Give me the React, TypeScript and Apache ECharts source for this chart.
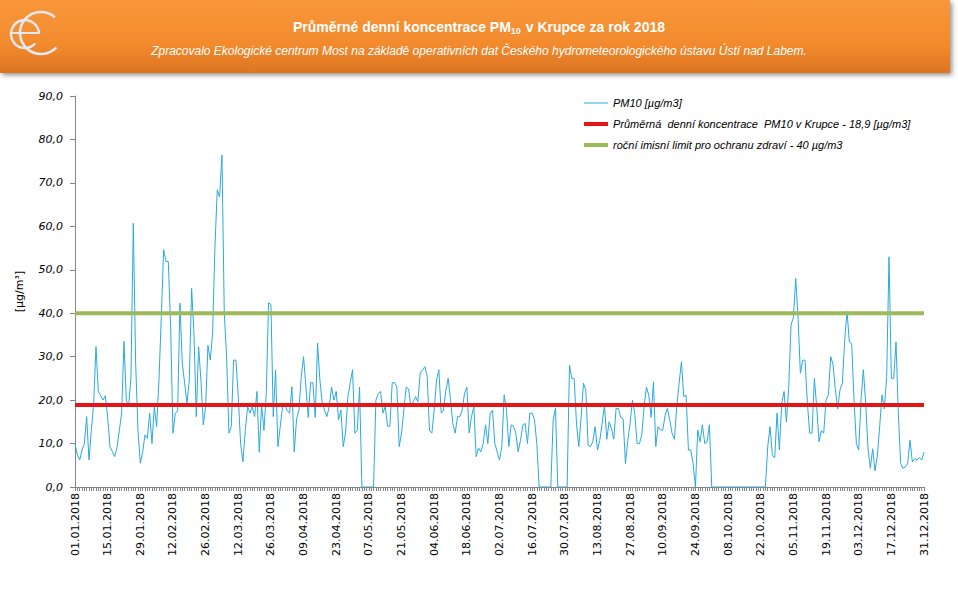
import React, { useEffect, useRef } from "react";
import * as echarts from "echarts";

// ---- data ----
const YEAR = 2018;
const DAY_COUNT = 365;
const MEAN_VALUE = 18.9;
const LIMIT_VALUE = 40;
const Y_TICKS = [0, 10, 20, 30, 40, 50, 60, 70, 80, 90];

const pm10JanFeb = [10, 7.4, 6.2, 8.5, 10, 16.2, 6.2, 13, 19.3, 32.3, 22, 21, 20, 21, 16, 9.3, 8.2, 7, 9, 13, 17, 33.5, 20, 18.5, 25.4, 60.7, 28.5, 13, 5.5, 8, 12, 11.2, 17, 10, 18.5, 13.9, 24.6, 39.2, 54.6, 51.9, 51.9, 36.9, 12.4, 17, 17.4, 42.3];
const pm10FebApr = [28.5, 23.9, 19.3, 24.6, 45.7, 35.4, 16.2, 32.3, 24.6, 14.3, 18.5, 32.6, 29.2, 35.4, 55.3, 68.4, 66.8, 76.4, 40, 30, 12.4, 13.9, 29.2, 29.2, 20.8, 10, 5.8, 13, 18.5, 17, 18.5, 16.2, 22, 8, 19, 13, 21.5, 42.4, 42, 16.2, 26.9, 9.3, 14, 18.5, 19, 17.5];
const pm10AprJul = [17, 23.1, 8.1, 15.7, 17.7, 25.4, 30, 23, 16, 24, 24, 16, 33.1, 24.6, 19.3, 17.7, 16.2, 18.5, 23, 20, 22, 15.5, 17.7, 9.3, 12.4, 20.8, 24, 27, 12.4, 13, 23, 0, 0, 0, 0, 0, 0, 20, 21.5, 22, 17, 18.5, 14, 14, 24, 24, 23, 9.3, 12.4, 17.7, 23, 22.6, 18.5, 19.6, 20.8, 19.6, 26.2, 27, 27.7, 25.4, 13, 12.4, 17.7, 24.6, 27, 17, 17.7, 22.3, 25, 20, 14.6, 12.4, 16.2, 16.2, 17.7, 21.5, 23, 12.4, 16.2, 18.5, 7, 9, 8.1, 10, 14.3, 10, 16.9, 17.7, 10, 8.1, 6.2, 9.3, 21.2, 17.7, 9.3, 14.3, 14, 12.4, 8.1, 10.7, 14.3, 14.6, 10, 17, 17, 15.5, 10];
const pm10July = [0, 0, 0, 0, 0, 0, 15.4, 18.1, 0, 0, 0, 0, 0];
const pm10JulSep = [28, 25, 25, 14.7, 9.3, 16, 23.9, 22.3, 9.6, 9.3, 10.4, 13.9, 8.5, 10.7, 14.7, 18.9, 11, 15, 13.5, 11, 18.1, 18.1, 16, 15.7, 5.4, 10.7, 14.7, 20, 16.9, 10, 10, 12, 18.5, 23, 21.1, 16, 24.2, 9.3, 13.9, 13.1, 13.1, 16.5, 18.1, 15.4, 12.3, 11, 18.5, 23.9, 28.8, 20.8, 21.1, 8.5, 8.5, 5.4, 0, 13.1, 10.4, 14.3, 10, 10.4, 14.3];
const pm10October = [0, 0, 0, 0, 0, 0, 0, 0, 0, 0, 0, 0, 0, 0, 0, 0, 0, 0, 0, 0, 0, 0, 0, 0];
const pm10OctDec = [9.3, 13.9, 7.2, 6.8, 17, 8.5, 19.3, 22, 15, 23, 37.3, 39, 48, 39, 26.2, 29.2, 29.2, 19.3, 12.4, 12.4, 25, 18.4, 10.4, 13, 12.4, 20, 21.2, 30, 28.2, 22.4, 18, 22.4, 23.9, 33.8, 40.4, 33.4, 33, 20, 10, 8.5, 20, 27, 19.3, 8.8, 4.3, 8.8, 3.7, 7.2, 13.9, 21.2, 18, 25.4, 53, 25, 25, 33.4, 17, 5.4, 4.3, 4.6, 5.4, 10.8, 5.8, 6.5, 6.2, 6.8, 6.2, 8];

const pm10 = [...pm10JanFeb, ...pm10FebApr, ...pm10AprJul, ...pm10July, ...pm10JulSep, ...pm10October, ...pm10OctDec];

const pad = (n: number) => (n < 10 ? "0" + n : "" + n);
const dates: string[] = [];
for (let i = 0; i < DAY_COUNT; i++) {
  const d = new Date(Date.UTC(YEAR, 0, 1) + i * 86400000);
  dates.push(`${pad(d.getUTCDate())}.${pad(d.getUTCMonth() + 1)}.${d.getUTCFullYear()}`);
}

const NAME_PM = "PM10 [µg/m3]";
const NAME_MEAN = "Průměrná  denní koncentrace  PM10 v Krupce - 18,9 [µg/m3]";
const NAME_LIMIT = "roční imisní limit pro ochranu zdraví - 40 µg/m3";

// legend icons: thin / thick horizontal bars inside a 24x12 box
const THIN_ICON = "path://M0,0 M0,5.5 L24,5.5 L24,6.5 L0,6.5 Z M24,12";
const THICK_ICON = "path://M0,0 M0,4 L24,4 L24,8 L0,8 Z M24,12";

export default function App() {
  const ref = useRef<HTMLDivElement>(null);
  useEffect(() => {
    document.body.style.margin = "0";
    const chart = echarts.init(ref.current!, null, { renderer: "svg" });
    const logoColor = "#E4E9F1";
    chart.setOption({
      animation: false,
      backgroundColor: "#ffffff",
      graphic: [
        {
          type: "rect",
          shape: { x: 0, y: 0, width: 950, height: 73 },
          style: {
            fill: new echarts.graphic.LinearGradient(0, 0, 0, 1, [
              { offset: 0, color: "#F8973A" },
              { offset: 0.6, color: "#F38B2E" },
              { offset: 1, color: "#DD7422" },
            ]),
            shadowBlur: 5,
            shadowOffsetX: 2,
            shadowOffsetY: 2,
            shadowColor: "rgba(0,0,0,0.45)",
          },
          z: 0,
        },
        {
          type: "arc",
          shape: { cx: 25, cy: 34, r: 14, startAngle: 0.75, endAngle: Math.PI * 2, clockwise: true },
          style: { stroke: logoColor, lineWidth: 2.4, fill: "none" },
          z: 2,
        },
        {
          type: "line",
          shape: { x1: 11, y1: 33, x2: 39, y2: 33 },
          style: { stroke: logoColor, lineWidth: 2 },
          z: 2,
        },
        {
          type: "arc",
          shape: { cx: 41, cy: 33, r: 21, startAngle: 0.75, endAngle: Math.PI * 2 - 0.85, clockwise: true },
          style: { stroke: logoColor, lineWidth: 2.6, fill: "none" },
          z: 2,
        },
        {
          type: "text",
          x: 479,
          y: 27,
          style: {
            text: "{a|Průměrné denní koncentrace PM}{s|10}{a| v Krupce za rok 2018}",
            align: "center",
            verticalAlign: "middle",
            fill: "#ffffff",
            rich: {
              a: { fontFamily: "Liberation Sans", fontWeight: "bold", fontSize: 14, lineHeight: 16, fill: "#ffffff" },
              s: { fontFamily: "Liberation Sans", fontWeight: "bold", fontSize: 9, lineHeight: 9, padding: [7, 1, 0, 0], fill: "#ffffff" },
            },
          },
          z: 3,
        },
        {
          type: "text",
          x: 479,
          y: 51,
          style: {
            text: "Zpracovalo Ekologické centrum Most na základě operativních dat Českého hydrometeorologického ústavu Ústí nad Labem.",
            align: "center",
            verticalAlign: "middle",
            fill: "#ffffff",
            fontFamily: "Liberation Sans",
            fontStyle: "italic",
            fontSize: 12,
          },
          z: 3,
        },
      ],
      legend: {
        orient: "vertical",
        left: 579,
        top: 92,
        itemWidth: 24,
        itemHeight: 12,
        itemGap: 9,
        textStyle: { fontFamily: "Liberation Sans", fontStyle: "italic", fontSize: 11, color: "#000" },
        data: [
          { name: NAME_PM, icon: THIN_ICON },
          { name: NAME_MEAN, icon: THICK_ICON },
          { name: NAME_LIMIT, icon: THICK_ICON },
        ],
      },
      grid: { left: 75, right: 34, top: 96, bottom: 104, containLabel: false },
      xAxis: {
        type: "category",
        data: dates,
        boundaryGap: false,
        axisLine: { lineStyle: { color: "#868686", width: 1 } },
        axisTick: { interval: 0, length: 4, lineStyle: { color: "#868686" } },
        axisLabel: {
          interval: 13,
          rotate: 90,
          margin: 6,
          fontFamily: "DejaVu Sans",
          fontSize: 11,
          color: "#000",
        },
        splitLine: { show: false },
      },
      yAxis: {
        type: "value",
        min: Y_TICKS[0],
        max: Y_TICKS[Y_TICKS.length - 1],
        interval: 10,
        name: "[µg/m³]",
        nameLocation: "middle",
        nameRotate: 90,
        nameGap: 50,
        nameTextStyle: { fontFamily: "DejaVu Sans", fontSize: 11, color: "#000" },
        axisLine: { show: true, lineStyle: { color: "#868686" } },
        axisTick: { show: true, length: 5, lineStyle: { color: "#868686" } },
        splitLine: { show: false },
        axisLabel: {
          margin: 12,
          fontFamily: "DejaVu Sans",
          fontStyle: "italic",
          fontSize: 11,
          color: "#000",
          formatter: (v: number) => v.toFixed(1).replace(".", ","),
        },
      },
      series: [
        {
          name: NAME_PM,
          type: "line",
          data: pm10,
          symbol: "none",
          lineStyle: { color: "#2AA9DF", width: 1 },
          itemStyle: { color: "#2AA9DF" },
          z: 2,
        },
        {
          name: NAME_MEAN,
          type: "line",
          data: [[dates[0], MEAN_VALUE], [dates[DAY_COUNT - 1], MEAN_VALUE]],
          symbol: "none",
          lineStyle: { color: "#E31515", width: 4 },
          itemStyle: { color: "#E31515" },
          z: 3,
        },
        {
          name: NAME_LIMIT,
          type: "line",
          data: [[dates[0], LIMIT_VALUE], [dates[DAY_COUNT - 1], LIMIT_VALUE]],
          symbol: "none",
          lineStyle: { color: "#9BBB59", width: 4 },
          itemStyle: { color: "#9BBB59" },
          z: 3,
        },
      ],
    });
    return () => chart.dispose();
  }, []);
  return <div ref={ref} style={{ width: 958, height: 591, background: "#fff" }} />;
}
